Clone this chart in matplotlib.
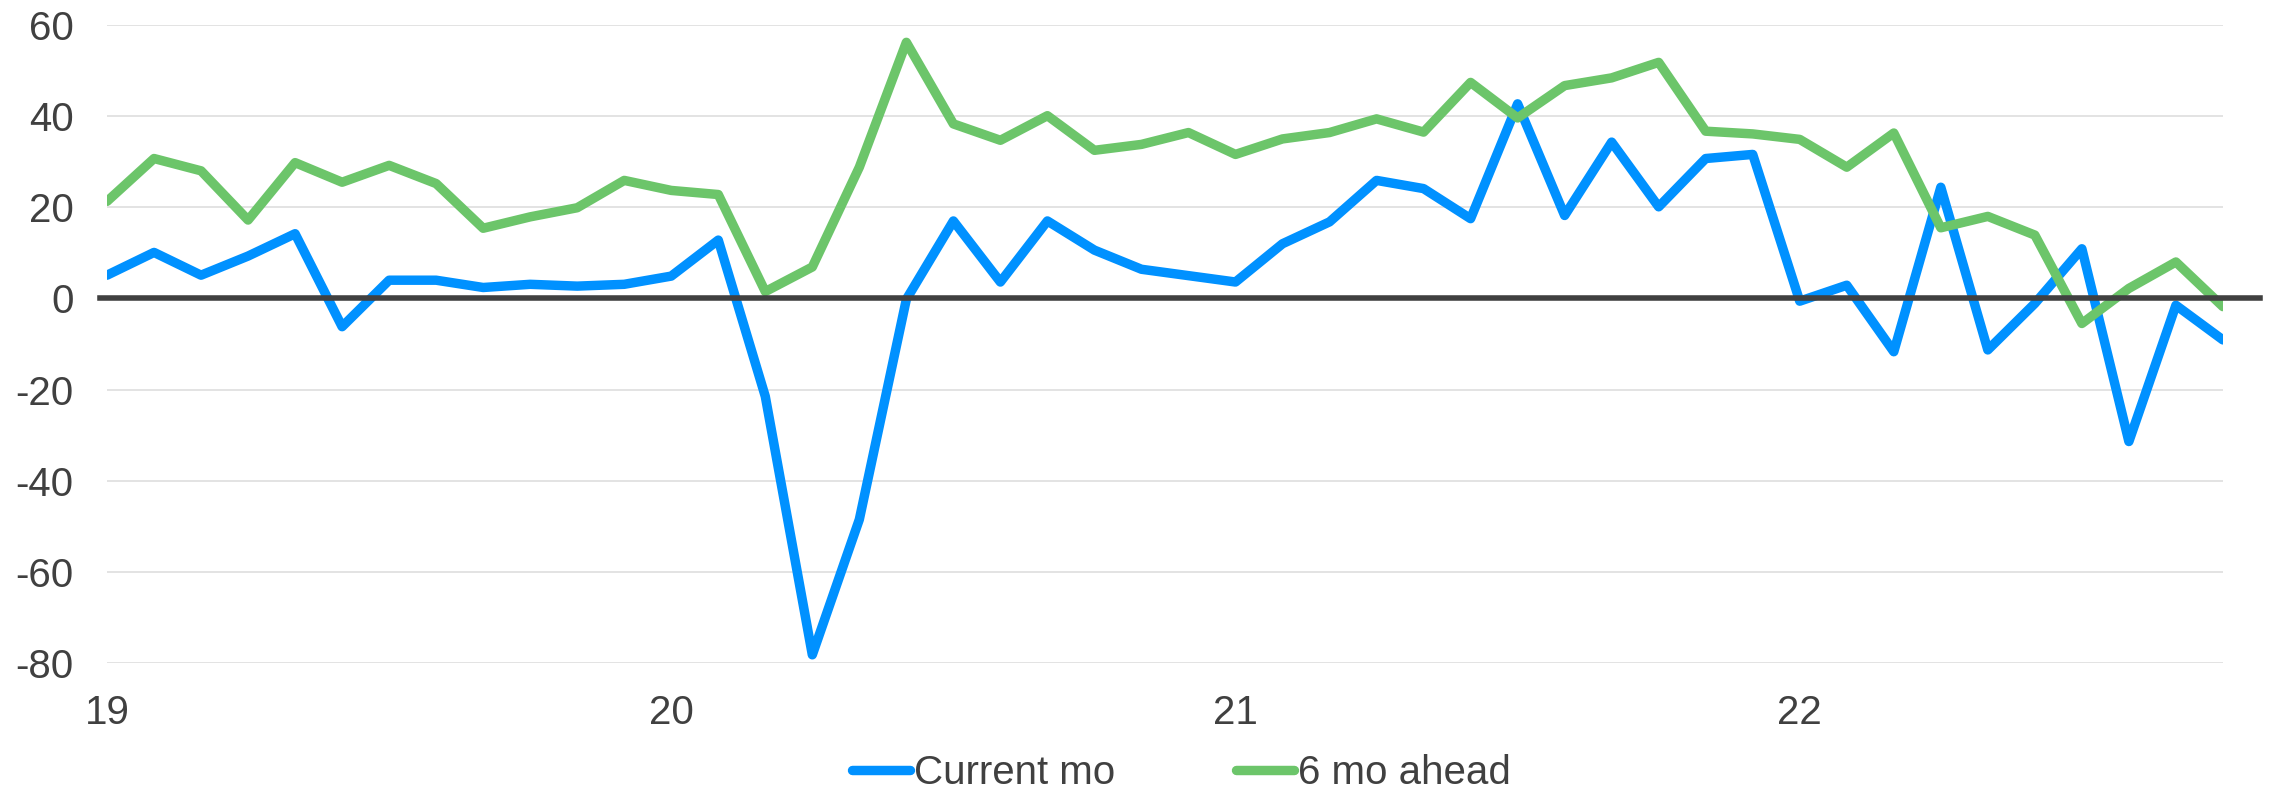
import numpy as np
import matplotlib
matplotlib.use("Agg")
import matplotlib.pyplot as plt

plt.rcParams['font.family'] = ['Liberation Sans', 'DejaVu Sans']
plt.rcParams['axes.unicode_minus'] = False

# monthly survey readings, Jan 2019 .. Oct 2022
current_mo = [5.1, 10.1, 5.1, 9.3, 14.2, -6.2, 4.0, 4.0, 2.4, 3.1, 2.7, 3.1,
              4.9, 12.8, -21.5, -78.2, -48.5, -0.2, 17.0, 3.6, 17.0, 10.6, 6.4, 5.0,
              3.6, 12.0, 16.8, 25.9, 24.1, 17.5, 42.7, 18.2, 34.3, 20.1, 30.7, 31.6,
              -0.6, 2.9, -11.7, 24.4, -11.3, -1.1, 10.9, -31.4, -1.5, -9.1]
six_mo_ahead = [21.3, 30.7, 28.0, 17.2, 29.8, 25.5, 29.2, 25.2, 15.4, 17.9, 19.9, 25.9,
                23.7, 22.8, 1.5, 6.9, 28.8, 56.2, 38.3, 34.7, 40.1, 32.5, 33.8, 36.4,
                31.6, 35.0, 36.4, 39.4, 36.5, 47.4, 39.6, 46.7, 48.4, 51.8, 36.7, 36.1,
                34.9, 28.8, 36.3, 15.5, 18.0, 13.9, -5.5, 2.2, 8.0, -1.8]
year_labels = ['19', '20', '21', '22']
year_start_idx = [0, 12, 24, 36]

months = np.arange(len(current_mo))

fig = plt.figure(figsize=(22.72, 7.91), dpi=100)
ax = fig.add_axes([0.0471, 0.1618, 0.9313, 0.8066])

ax.plot(months, current_mo, color='#0091FF', lw=6.8, solid_joinstyle='round',
        solid_capstyle='round', label='Current mo', zorder=3)
ax.plot(months, six_mo_ahead, color='#6CC56A', lw=6.8, solid_joinstyle='round',
        solid_capstyle='round', label='6 mo ahead', zorder=3)

ax.set_xlim(0, len(current_mo) - 1)
ax.set_ylim(-80, 60)
ax.set_yticks(np.arange(-80, 61, 20))
ax.set_xticks(year_start_idx)
ax.set_xticklabels(year_labels)

ax.grid(axis='y', color='#E0E0E0', lw=1.3, zorder=0)
# zero line runs a little past the plot area, as in the original
ax.axhline(0, xmin=-0.0033, xmax=1.0175, color='#404040', lw=4, clip_on=False, zorder=4)

for s in ax.spines.values():
    s.set_visible(False)
ax.tick_params(axis='both', length=0, labelsize=29, labelcolor='#404040')
ax.tick_params(axis='y', pad=24)
ax.tick_params(axis='x', pad=22)

fig.legend(loc='center', bbox_to_anchor=(0.52, 0.023), ncol=2, frameon=False,
           fontsize=29, labelcolor='#404040', handlelength=1.45, handletextpad=0.1,
           columnspacing=3.0)

fig.savefig('out.png', dpi=100)
